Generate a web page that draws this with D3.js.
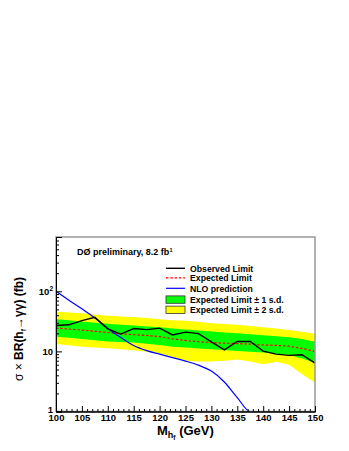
<!DOCTYPE html>
<html><head><meta charset="utf-8">
<script src="https://cdn.jsdelivr.net/npm/d3@7"></script>
<style>
html,body{margin:0;padding:0;background:#fff;}
svg{display:block;}
text{font-family:"Liberation Sans",Arial,Helvetica,sans-serif;}
</style></head>
<body>
<svg id="c" width="349" height="451"></svg>
<script>
// ---- data ----
const mass = [100,102.5,105,107.5,110,112.5,115,117.5,120,122.5,125,127.5,130,132.5,135,137.5,140,142.5,145,147.5,150];
const observed = [26.9,27.7,32.5,37,23.7,19.4,24,23,24.4,18.8,20.9,19.8,14.4,10.6,14.6,14.6,10.1,9.0,8.6,8.8,6.4];
const expected = [24.4,23.5,22.6,21.6,20.6,19.6,19.0,18.4,17.6,16.2,15.2,14.5,14.0,13.7,13.5,13.2,12.8,12.6,12.2,11.2,10.0];
const plus2 = [46,44.5,43.3,41,39,38,37.2,35.8,34.4,33,32.2,31,29.5,28.5,27.7,26.5,25.3,24,22.8,21.2,19.6];
const plus1 = [34.4,32.9,31.4,30,28.7,27.8,26.9,26,25.3,24.1,23.2,22.3,21.4,20.7,20.1,19.3,18.6,17.9,17.2,16,14.4];
const minus1 = [17.6,16.8,16,15.3,14.6,14.3,14,13.4,12.8,12.0,11.6,11.2,10.9,10.5,10.2,9.9,9.55,9.1,8.7,7.6,6.5];
const minus2 = [13.3,12.6,12.0,11.6,11.3,10.9,10.4,9.9,9.2,8.0,7.0,6.8,6.8,7.0,7.3,6.8,6.1,6.7,6.0,4.2,3.0];
const nlo = [100,71,51,36,24,17,12.5,10.3,9.0,7.9,6.9,5.9,4.7,3.1,1.7,0.9,0.5,0.3,0.15,0.08,0.05];
const xTicks = [100,105,110,115,120,125,130,135,140,145,150];
const yTicks = [1,10,100];
const legendLabels = ["Observed Limit","Expected Limit","NLO prediction","Expected Limit \u00b1 1 s.d.","Expected Limit \u00b1 2 s.d."];

// ---- layout ----
const L=56, R=315, T=237, B=411.5;
const svg = d3.select("#c");
const x = d3.scaleLinear().domain([100,150]).range([L,R]);
const y = d3.scaleLog().domain([1,800]).range([B,T]);
const yc = v => y(Math.max(v,1));

const rows = mass.map((m,i)=>({m,o:observed[i],e:expected[i],p2:plus2[i],p1:plus1[i],m1:minus1[i],m2:minus2[i],n:nlo[i]}));

const g = svg.append("g");
g.append("path").datum(rows).attr("fill","#ffff00")
 .attr("d", d3.area().x(d=>x(d.m)).y0(d=>y(d.m2)).y1(d=>y(d.p2)));
g.append("path").datum(rows).attr("fill","#00ff00")
 .attr("d", d3.area().x(d=>x(d.m)).y0(d=>y(d.m1)).y1(d=>y(d.p1)));
g.append("path").datum(rows).attr("fill","none").attr("stroke","#ff0000").attr("stroke-width",1.2)
 .attr("stroke-dasharray","2.5,1.8")
 .attr("d", d3.line().x(d=>x(d.m)).y(d=>y(d.e)));
g.append("path").datum(rows).attr("fill","none").attr("stroke","#0000ff").attr("stroke-width",1.2)
 .attr("d", d3.line().curve(d3.curveMonotoneX).x(d=>x(d.m)).y(d=>yc(d.n)));
g.append("path").datum(rows).attr("fill","none").attr("stroke","#000").attr("stroke-width",1.4)
 .attr("d", d3.line().x(d=>x(d.m)).y(d=>y(d.o)));

// frame
svg.append("rect").attr("x",L).attr("y",T).attr("width",R-L).attr("height",B-T)
  .attr("fill","none").attr("stroke","#999").attr("stroke-width",1.5);

// x axis
const xMinor = d3.range(100,151,1).filter(v=>v%5!==0);
const xa = svg.append("g").attr("transform",`translate(0,${B})`);
xa.call(d3.axisBottom(x).tickValues(xMinor).tickSize(-2.5).tickFormat(""));
xa.append("g").call(d3.axisBottom(x).tickValues(xTicks).tickSize(-5.5).tickPadding(3).tickFormat(d3.format("d")));
xa.selectAll("path.domain").attr("stroke","#000");
xa.selectAll("line").attr("stroke","#000");
xa.selectAll("text").attr("font-size","9.5px").attr("font-weight","bold").attr("fill","#000")
  .attr("font-family","Liberation Sans, Arial, sans-serif");

// y axis
const yMinor = [];
[1,10,100].forEach(d=>{for(let k=2;k<=9;k++){const v=d*k; if(v<=800) yMinor.push(v);}});
const ya = svg.append("g").attr("transform",`translate(${L},0)`);
ya.call(d3.axisLeft(y).tickValues(yMinor).tickSize(-3).tickFormat(""));
ya.append("g").call(d3.axisLeft(y).tickValues(yTicks).tickSize(-6).tickFormat(""));
ya.selectAll("path.domain").attr("stroke","#000");
ya.selectAll("line").attr("stroke","#000");
// y tick labels
const yl = svg.append("g").attr("font-size","9.5px").attr("font-weight","bold");
yl.append("text").attr("x",L-3).attr("y",y(1)+1).attr("text-anchor","end").text("1");
yl.append("text").attr("x",L-3).attr("y",y(10)+3.5).attr("text-anchor","end").text("10");
const t100 = yl.append("text").attr("x",L-3).attr("y",y(100)+3.5).attr("text-anchor","end");
t100.append("tspan").text("10");
t100.append("tspan").attr("font-size","6.5px").attr("dy","-4").text("2");

// axis titles
const xt = svg.append("text").attr("x",157).attr("y",435).attr("font-size","13px").attr("font-weight","bold");
xt.append("tspan").text("M");
xt.append("tspan").attr("font-size","9px").attr("dy","3").text("h");
xt.append("tspan").attr("font-size","6.5px").attr("dy","2").text("f");
xt.append("tspan").attr("dy","-5").text(" (GeV)");

const ytl = svg.append("text").attr("transform","translate(23,329) rotate(-90)").attr("text-anchor","middle")
  .attr("font-size","12px").attr("font-weight","bold");
ytl.append("tspan").attr("font-weight","normal").text("\u03c3 \u00d7 ");
ytl.append("tspan").text("BR(h");
ytl.append("tspan").attr("font-size","7px").attr("dy","3").text("f");
ytl.append("tspan").attr("dy","-3").text("\u2192\u03b3\u03b3) (fb)");

// header
const hd = svg.append("text").attr("x",77).attr("y",255).attr("font-size","9px").attr("font-weight","bold");
hd.append("tspan").text("D\u00d8 preliminary, 8.2 fb");
hd.append("tspan").attr("font-size","5.5px").attr("dy","-3.5").text("1");

// legend
const lg = svg.append("g").attr("font-size","8.7px").attr("font-weight","bold");
const rowY = [268.3,277.8,288.3,299.6,309.8];
const lx0=166, lx1=185, tx=190;
lg.append("line").attr("x1",lx0).attr("x2",lx1).attr("y1",rowY[0]).attr("y2",rowY[0]).attr("stroke","#000").attr("stroke-width",1.4);
lg.append("line").attr("x1",lx0).attr("x2",lx1).attr("y1",rowY[1]).attr("y2",rowY[1]).attr("stroke","#ff0000").attr("stroke-width",1.2).attr("stroke-dasharray","2.5,1.8");
lg.append("line").attr("x1",lx0).attr("x2",lx1).attr("y1",rowY[2]).attr("y2",rowY[2]).attr("stroke","#0000ff").attr("stroke-width",1.2);
lg.append("rect").attr("x",lx0).attr("y",rowY[3]-3.7).attr("width",lx1-lx0).attr("height",7.4).attr("fill","#00ff00").attr("stroke","#333").attr("stroke-width",0.8);
lg.append("rect").attr("x",lx0).attr("y",rowY[4]-3.7).attr("width",lx1-lx0).attr("height",7.4).attr("fill","#ffff00").attr("stroke","#333").attr("stroke-width",0.8);
legendLabels.forEach((t,i)=>{
  lg.append("text").attr("x",tx).attr("y",rowY[i]+3.2).text(t);
});
</script>
</body></html>
